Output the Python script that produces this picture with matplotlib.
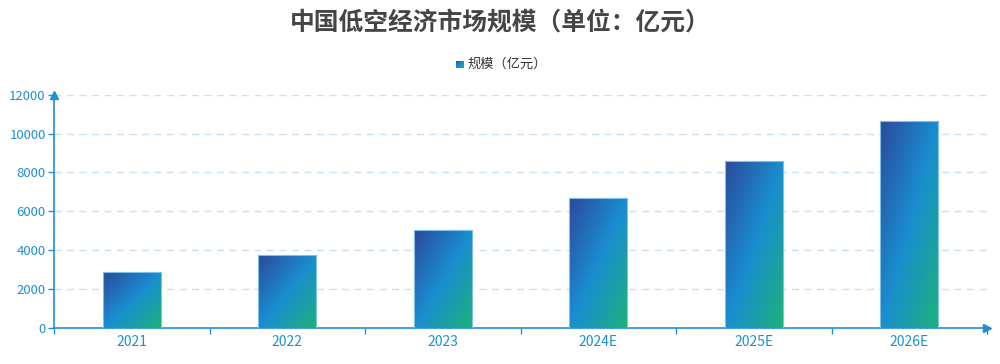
import numpy as np
import matplotlib
matplotlib.use('Agg')
import matplotlib.pyplot as plt
from matplotlib.colors import LinearSegmentedColormap

plt.rcParams['font.family'] = ['Noto Sans CJK SC', 'DejaVu Sans']

years = ['2021', '2022', '2023', '2024E', '2025E', '2026E']
scale = [2860, 3750, 5060, 6700, 8600, 10650]
yticks = [0, 2000, 4000, 6000, 8000, 10000, 12000]

axis_blue = '#1f8fd2'
grid_blue = '#c9dff2'
cmap = LinearSegmentedColormap.from_list('bar', ['#2b4a9a', '#1a8dd0', '#1cb27a'])

# diagonal gradient, top-left -> bottom-right (row 0 = top)
u, v = np.meshgrid(np.linspace(0, 1, 60), np.linspace(0, 1, 200))
grad = (u + v) / 2

fig = plt.figure(figsize=(10, 3.64), dpi=100)
ax = fig.add_axes([0.054, 1 - 328 / 364, 0.933, (328 - 94.7) / 364])

x = np.arange(len(years))
bars = ax.bar(x, scale, width=0.375, color='none', edgecolor='#7cc0ea',
              linewidth=0.8, zorder=3)
for b in bars:
    x0, y0 = b.get_x(), b.get_y()
    im = ax.imshow(grad, cmap=cmap, vmin=0, vmax=1, aspect='auto',
                   extent=[x0, x0 + b.get_width(), y0, y0 + b.get_height()],
                   origin='upper', zorder=2)
    im.set_clip_path(b)

ax.set_xlim(-0.5, len(years) - 0.5)
ax.set_ylim(0, 12000)
ax.set_yticks(yticks)
ax.set_yticklabels([str(t) for t in yticks])
ax.set_xticks(x)
ax.set_xticklabels(years)
ax.set_xticks(np.arange(len(years) + 1) - 0.5, minor=True)

for t in yticks[1:]:
    ax.axhline(t, color=grid_blue, lw=1, ls=(0, (5, 4)), zorder=1)

for s in ['top', 'right']:
    ax.spines[s].set_visible(False)
for s in ['left', 'bottom']:
    ax.spines[s].set_color(axis_blue)
    ax.spines[s].set_linewidth(1.2)

ax.tick_params(axis='y', colors=axis_blue, labelsize=9.5, length=4, width=1, pad=2)
ax.tick_params(axis='x', which='major', length=0, colors=axis_blue,
               labelsize=10, pad=5)
ax.tick_params(axis='x', which='minor', length=4, width=1, color=axis_blue)

# axis arrows
ax.plot(0, 1, marker='^', color=axis_blue, markersize=6,
        transform=ax.transAxes, clip_on=False, zorder=5)
ax.plot(1, 0, marker='>', color=axis_blue, markersize=6,
        transform=ax.transAxes, clip_on=False, zorder=5)

fig.text(0.5, 1 - 23 / 364, '中国低空经济市场规模（单位：亿元）', ha='center',
         va='center', fontsize=17.8, fontweight='bold', color='#454545')

# legend
lax = fig.add_axes([456 / 1000, 1 - 68.5 / 364, 8 / 1000, 8 / 364])
lax.imshow(grad, cmap=cmap, vmin=0, vmax=1, aspect='auto')
lax.axis('off')
fig.text(468 / 1000, 1 - 64 / 364, '规模（亿元）', ha='left', va='center',
         fontsize=9.5, color='#333333')

fig.savefig('out.png', dpi=100)
